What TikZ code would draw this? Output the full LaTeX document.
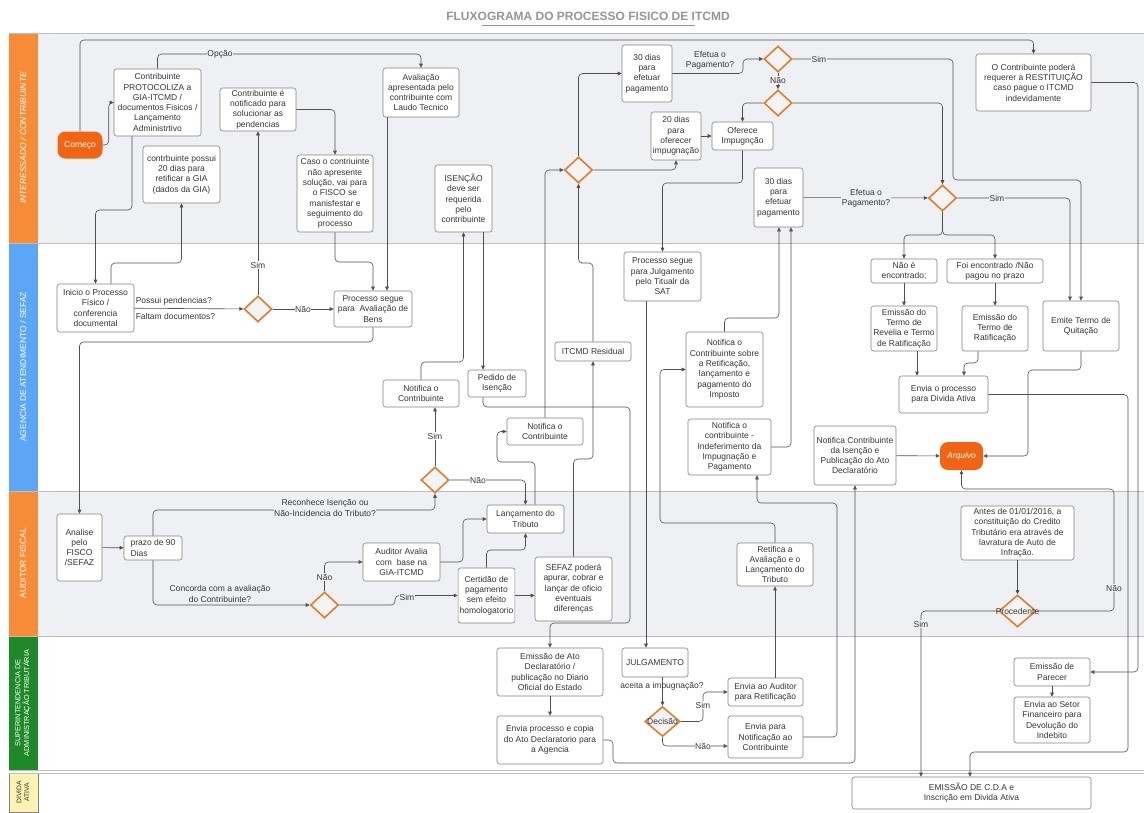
\documentclass[tikz,border=0pt]{standalone}
\usepackage{fontspec}
\setmainfont{Liberation Sans}
\usepackage{tikz}
\usetikzlibrary{positioning,arrows.meta,shapes.geometric}
\definecolor{orng}{RGB}{247,140,56}
\definecolor{blu}{RGB}{92,166,245}
\definecolor{grn}{RGB}{31,137,42}
\definecolor{ylw}{RGB}{252,242,180}
\definecolor{lanegray}{RGB}{238,240,243}
\definecolor{termc}{RGB}{240,100,20}
\definecolor{decor}{RGB}{225,125,45}
\definecolor{decfill}{RGB}{244,244,244}
\definecolor{boxline}{RGB}{130,130,130}
\definecolor{lin}{RGB}{80,80,80}
\definecolor{txt}{RGB}{55,55,55}
\definecolor{ttl}{RGB}{150,150,150}
\definecolor{sepc}{RGB}{190,190,190}
\newcommand\flowfont{\fontsize{8.5}{10.3}\selectfont}
\tikzset{
box/.style={
draw=boxline,
fill=white,
rounded corners=2.5pt,
align=center,
font=\flowfont,
text=txt,
inner sep=1.5pt,
line width=0.6pt
},
sz/.style 2 args={
minimum width=#1pt,
minimum height=#2pt
},
term/.style={
fill=termc,
rounded corners=8pt,
font=\flowfont,
text=white,
inner sep=1pt
},
dec/.style={
diamond,
draw=decor,
line width=1.6pt,
fill=decfill,
minimum width=28pt,
minimum height=26pt,
inner sep=0pt,
font=\flowfont,
text=txt
},
declbl/.style={
label={[font=\flowfont,text=txt]center:#1}
},
arr/.style={
-{Triangle[length=4pt,width=3.6pt]},
draw=lin,
line width=0.6pt,
rounded corners=4pt
},
lbl/.style={
font=\flowfont,
text=txt,
inner sep=0.6pt,
align=center
},
hdr/.style={
rotate=90,
font=\flowfont,
text=white,
align=center
}
}

\begin{document}
\begin{tikzpicture}[x=1pt,y=-1pt]
\useasboundingbox (0,0) rectangle (1144,812);
\fill[white] (0,0) rectangle (1144,812);

\fill[lanegray] (38,33) rectangle (1144,243);
\fill[lanegray] (38,491) rectangle (1144,636);
\fill[orng] (9,33) rectangle (38,243);
\fill[blu] (9,243) rectangle (38,491);
\fill[orng] (9,491) rectangle (38,636);
\fill[grn] (9,636) rectangle (38,770);
\filldraw[ylw,draw=boxline] (9,773) rectangle (38,812);
\foreach \y in {33,243,491,636,770,773}
\draw[sepc,line width=0.8pt](9,\y)--(1144,\y);

\node[font=\bfseries\fontsize{12}{14}\selectfont,text=ttl](title) at (588,16){FLUXOGRAMA DO PROCESSO FISICO DE ITCMD};
\draw[ttl,line width=0.8pt](482,25)--(695,25);

\node[hdr,font=\flowfont\itshape](h1) at (23,138){INTERESSADO / CONTRIBUINTE};
\node[hdr](h2) at (23,367){AGENCIA DE ATENDIMENTO / SEFAZ};
\node[hdr](h3) at (23,563){AUDITOR FISCAL};
\node[hdr,font=\fontsize{7.3}{8.6}\selectfont](h4) at (23,703){SUPERINTENDENCIA DE\\ADMINISTRAÇÃO TRIBUTÁRIA};
\node[hdr,text=txt,font=\fontsize{6.8}{7.8}\selectfont](h5) at (23,792){DIVIDA\\ATIVA};

\node[term,sz={45}{27}](comeco) at (80,145){Começo};
\node[box,sz={87}{67}](protoc) at (157.5,102.5){Contribuinte\\PROTOCOLIZA a\\GIA-ITCMD /\\documentos Fisicos /\\Lançamento\\Administrtivo};
\node[box,sz={77}{57}](retif20) at (181.5,174.5){contrbuinte possui\\20 dias para\\retificar a GIA\\(dados da GIA)};
\node[box,sz={76}{43}](notpend) at (258,109.5){Contribuinte é\\notificado para\\solucionar as\\pendencias};
\node[box,sz={76}{77}](caso) at (335,193.5){Caso o contriuinte\\não apresente\\solução, vai para\\o FISCO se\\manisfestar e\\seguimento do\\processo};
\node[box,sz={76}{49}](laudo) at (421,92.5){Avaliação\\apresentada pelo\\contribuinte com\\Laudo Tecnico};
\node[box,sz={57}{67}](isencao) at (463.5,198.5){ISENÇÃO\\deve ser\\requerida\\pelo\\contribuinte};
\node[dec](dA) at (578.5,170){};
\node[box,sz={50}{57}](pag30a) at (647,73.5){30 dias\\para\\efetuar\\pagamento};
\node[dec](dB) at (778,59){};
\node[dec](dC) at (778,103){};
\node[box,sz={50}{48}](imp20) at (676,136){20 dias\\para\\oferecer\\impugnação};
\node[box,sz={61}{28}](oferece) at (742.5,136){Oferece\\Impugnção};
\node[box,sz={49}{59}](pag30b) at (778.5,197.5){30 dias\\para\\efetuar\\pagamento};
\node[dec](dD) at (942.5,198){};
\node[box,sz={115}{57}](restit) at (1033.5,82.5){O Contribuinte poderá\\requerer a RESTITUIÇÃO\\caso pague o ITCMD\\indevidamente};

\node[box,sz={77}{48}](inicio) at (95.5,308){Inicio o Processo\\Físico /\\conferencia\\documental};
\node[dec](dP) at (258,309){};
\node[box,sz={78}{36}](avalbens) at (373,309){Processo segue\\para~ Avaliação de\\Bens};
\node[box,sz={76}{27}](notif1) at (421,393.5){Notifica o\\Contribuinte};
\node[box,sz={58}{27}](pedido) at (497,383.5){Pedido de\\Isenção};
\node[box,sz={76}{27}](notif2) at (545,431.5){Notifica o\\Contribuinte};
\node[box,sz={76}{19}](residual) at (593,351.5){ITCMD Residual};
\node[box,sz={77}{49}](julgproc) at (662.5,276.5){Processo segue\\para Julgamento\\pelo Titualr da\\SAT};
\node[box,sz={77}{75}](notretif) at (724.5,369.5){Notifica o\\Contribuinte sobre\\a Retificação,\\lançamento e\\pagamento do\\Imposto};
\node[box,sz={83}{56}](notindef) at (729.5,447){Notifica o\\contribuinte -\\Indeferimento da\\Impugnação e\\Pagamento};
\node[dec](dI) at (435,480){};
\node[box,sz={66}{24}](naoenc) at (904,271){Não é\\encontrado;};
\node[box,sz={96}{24}](foienc) at (995,271){Foi encontrado /Não\\pagou no prazo};
\node[box,sz={66}{45}](revelia) at (904,328.5){Emissão do\\Termo de\\Revelia e Termo\\de Ratificação};
\node[box,sz={66}{45}](ratif) at (995,328.5){Emissão do\\Termo de\\Ratificação};
\node[box,sz={76}{50}](quitacao) at (1081,326){Emite Termo de\\Quitação};
\node[box,sz={89}{37}](enviada) at (943.5,394.5){Envia o processo\\para Divida Ativa};
\node[term,sz={43}{28},font=\flowfont\itshape](arquivo) at (961.5,456){Arquivo};
\node[box,sz={82}{59}](notisen) at (855,455.5){Notifica Contribuinte\\da Isenção e\\Publicação do Ato\\Declaratório};

\node[box,sz={45}{67}](analise) at (79.5,547.5){Analise\\pelo\\FISCO\\/SEFAZ};
\node[box,sz={58}{24},align=left](prazo) at (153,548){prazo de 90\\Dias};
\node[dec](dK) at (324.5,605){};
\node[box,sz={77}{38}](audit) at (401.5,562){Auditor Avalia\\com~ base na\\GIA-ITCMD};
\node[box,sz={77}{28}](lanc) at (525.5,519){Lançamento do\\Tributo};
\node[box,sz={55}{55}](certidao) at (486.5,595.5){Certidão de\\pagamento\\sem efeito\\homologatorio};
\node[box,sz={77}{64}](sefaz) at (573.5,589){SEFAZ poderá\\apurar, cobrar e\\lançar de oficio\\eventuais\\diferenças};
\node[box,sz={76}{43}](retifica) at (775,564.5){Retifica a\\Avaliação e o\\Lançamento do\\Tributo};
\node[box,sz={113}{54}](antes) at (1017.5,533){Antes de 01/01/2016, a\\constituição do Credito\\Tributário era através de\\lavratura de Auto de\\Infração.};
\node[dec,minimum width=37pt,minimum height=32pt,declbl=Procedente](dR) at (1017.5,611){};

\node[box,sz={106}{48}](emato) at (550,672){Emissão de Ato\\Declaratório /\\publicação no Diario\\Oficial do Estado};
\node[box,sz={106}{48}](enviacopia) at (550,740){Envia processo e copia\\do Ato Declaratorio para\\a Agencia};
\node[box,sz={66}{29}](julgam) at (655,662.5){JULGAMENTO};
\node[dec,minimum width=35pt,minimum height=30pt,declbl=Decisão](dDec) at (662.5,721.5){};
\node[box,sz={75}{28}](envaud) at (765.5,692){Envia ao Auditor\\para Retificação};
\node[box,sz={75}{42}](envnotif) at (765.5,737){Envia para\\Notificação ao\\Contribuinte};
\node[box,sz={76}{28}](parecer) at (1052,672){Emissão de\\Parecer};
\node[box,sz={76}{46}](setor) at (1052,720){Envia ao Setor\\Financeiro para\\Devolução do\\Indebito};

\node[box,sz={239}{32}](cda) at (971.5,793){EMISSÃO DE C.D.A e\\Inscrição em Divida Ativa};

\foreach \a/\b in {naoenc/revelia,foienc/ratif,emato/enviacopia,parecer/setor,antes/dR,analise/prazo,imp20/oferece,notisen/arquivo,pag30b/dD,inicio/dP,dP/avalbens,dB/dC}
\draw[arr](\a)--(\b);
\draw[arr](comeco.north)|-(600,40)-|(restit.north);
\draw[arr](protoc.north)|-(300,54)-|(laudo.north);
\draw[arr](comeco.east)--++(6,0)|-(protoc.west);
\draw[arr](132,0|-protoc.south)--(132,210)-|(inicio.north);
\draw[arr](111,0|-inicio.north)--(111,263)-|(retif20.south);
\draw[arr](dP.north)--(notpend.south);
\draw[arr](notpend.east)-|(caso.north);
\draw[arr](caso.south)|-(350,262)-|(avalbens.north);
\draw[arr](387,0|-laudo.south)--(387,0|-avalbens.north);
\draw[arr](avalbens.south)|-(200,342)-|(analise.north);
\draw[arr](prazo.north)|-(300,510)-|(dI.south);
\draw[arr](prazo.south)|-(dK.west);
\draw[arr](dK.north)|-(audit.west);
\draw[arr](dK.east)--(395,605)|-(certidao.west);
\draw[arr](audit.east)--(463,562)|-(lanc.west);
\draw[arr](certidao.north)|-(510,550)-|(lanc.south);
\draw[arr](certidao.east)--(certidao.east-|sefaz.west);
\draw[arr](sefaz.north)|-(585,459)-|(residual.south);
\draw[arr](residual.north)|-(585,263)-|(dA.south);
\draw[arr](535,0|-lanc.north)--(535,462)--(497,462)|-(notif2.west);
\draw[arr](dI.north)--(dI.north|-notif1.south);
\draw[arr](dI.east)-|(lanc.north);
\draw[arr](notif1.north)|-(440,362)-|(isencao.south);
\draw[arr](483,0|-isencao.south)--(483,0|-pedido.north);
\draw[arr](483,0|-pedido.south)|-(630,407)|-(550,623)--(emato.north);
\draw[arr](notif2.north)|-(dA.west);
\draw[arr](dA.north)|-(pag30a.west);
\draw[arr](dA.east)-|(imp20.south);
\draw[arr](pag30a.east)--(743,73.5)|-(dB.west);
\draw[arr](dB.east)-|(953,180)-|(quitacao.north);
\draw[arr](dC.west)-|(oferece.north);
\draw[arr](dC.east)-|(dD.north);
\draw[arr](oferece.south)|-(700,183)-|(julgproc.north);
\draw[arr](dD.east)-|(1070,0|-quitacao.north);
\draw[arr](dD.south)--(942.5,235)-|(naoenc.north);
\draw[arr](dD.south)--(942.5,235)-|(foienc.north);
\draw[arr](917,0|-revelia.south)--(917,0|-enviada.north);
\draw[arr](978,0|-ratif.south)--(978,363)-|(964,0|-enviada.north);
\draw[arr](quitacao.south)--(1081,370)--(1028,370)|-(arquivo.east);
\draw[arr](enviada.east)-|(1128,752)-|(970,0|-cda.north);
\draw[arr](enviacopia.east)--(613,740)|-(855,763)--(notisen.south);
\draw[arr](envnotif.east)-|(837,503)-|(757,0|-notindef.south);
\draw[arr](retifica.north)|-(660,523)|-(notretif.west);
\draw[arr](retifica.south|-envaud.north)--(retifica.south);
\draw[arr](notretif.north)|-(779,318)--(779,0|-pag30b.south);
\draw[arr](notindef.east)-|(791,0|-pag30b.south);
\draw[arr](646,0|-julgproc.south)--(646,0|-julgam.north);
\draw[arr](dDec.north|-julgam.south)--(dDec.north);
\draw[arr](dDec.east)--(703,721.5)|-(envaud.west);
\draw[arr](dDec.south)|-([yshift=-9pt]envnotif.west);
\draw[arr](restit.east)-|(1138,672)--(parecer.east);
\draw[arr](dR.east)-|(1114,489)-|(arquivo.south);
\draw[arr](dR.west)-|(921,0|-cda.north);

\node[lbl,fill=lanegray](opcao) at (220,54){Opção};
\node[lbl,anchor=west](possui) at (135,301){Possui pendencias?};
\node[lbl,anchor=west](faltam) at (135,316){Faltam documentos?};
\node[lbl,fill=white](simP) at (258,265){Sim};
\node[lbl,fill=white](naoP) at (303,309){Não};
\node[lbl,fill=lanegray](reconhece) at (325,508){Reconhece Isenção ou\\Não-Incidencia do Tributo?};
\node[lbl](concorda) at (220,594){Concorda com a avaliação\\do Contribuinte?};
\node[lbl,fill=lanegray](naoK) at (324.5,577){Não};
\node[lbl,fill=lanegray](simK) at (407,597){Sim};
\node[lbl,fill=white](simI) at (435,436){Sim};
\node[lbl,fill=white](naoI) at (478,480){Não};
\node[lbl](efetua1) at (710,60){Efetua o\\Pagamento?};
\node[lbl,fill=lanegray](simB) at (819,59){Sim};
\node[lbl,fill=lanegray](naoB) at (778,80){Não};
\node[lbl,fill=lanegray](efetua2) at (866,198){Efetua o\\Pagamento?};
\node[lbl,fill=lanegray](simD) at (997,198){Sim};
\node[lbl](aceita) at (662,686){aceita a impugnação?};
\node[lbl,fill=white](simDec) at (703,705){Sim};
\node[lbl,fill=white](naoDec) at (703,746){Não};
\node[lbl,fill=lanegray](naoR) at (1114,588){Não};
\node[lbl,fill=lanegray](simR) at (921,624){Sim};
\end{tikzpicture}
\end{document}
